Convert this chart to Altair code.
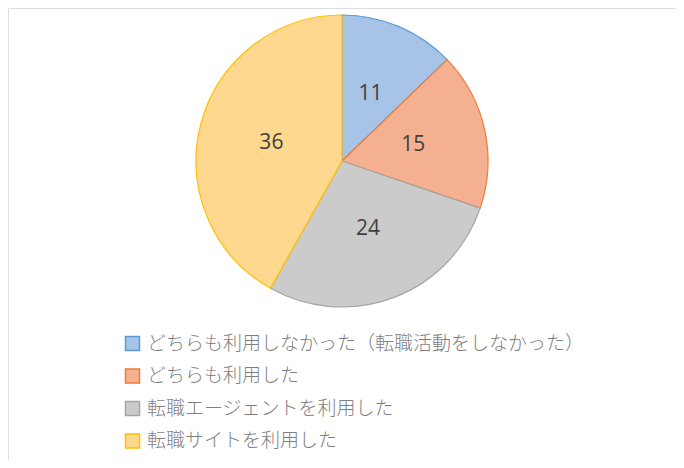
import altair as alt
import pandas as pd

categories = [
    "どちらも利用しなかった（転職活動をしなかった）",
    "どちらも利用した",
    "転職エージェントを利用した",
    "転職サイトを利用した",
]
values = [11, 15, 24, 36]
order = [0, 1, 2, 3]
fills = ["#a7c3e7", "#f5b092", "#cbcbcb", "#fed88f"]
strokes = ["#5b9bd5", "#ed7d31", "#a5a5a5", "#ffc000"]

df = pd.DataFrame({"cat": categories, "val": values, "ord": order})

fill_scale = alt.Scale(domain=categories, range=fills)
stroke_scale = alt.Scale(domain=categories, range=strokes)

legend = alt.Legend(
    title=None,
    orient="none",
    legendX=115,
    legendY=326,
    symbolType="square",
    symbolSize=196,
    symbolStrokeWidth=1.5,
    symbolOpacity=1,
    labelFont="Noto Sans CJK JP",
    labelFontSize=19,
    labelFontWeight=300,
    labelColor="#7f7f7f",
    labelLimit=600,
    labelOffset=5,
    rowPadding=11.5,
    padding=0,
)

base = alt.Chart(df).encode(
    theta=alt.Theta("val:Q", stack=True),
    order=alt.Order("ord:Q"),
)

arcs = base.mark_arc(outerRadius=146, strokeWidth=1.2, opacity=1).encode(
    x=alt.value(334),
    y=alt.value(153),
    fill=alt.Fill("cat:N", scale=fill_scale, legend=legend, sort=categories),
    stroke=alt.Stroke("cat:N", scale=stroke_scale, legend=legend, sort=categories),
)

labels = base.mark_text(
    radius=73, fontSize=21, font="Open Sans", color="#404040"
).encode(
    x=alt.value(334),
    y=alt.value(153),
    text=alt.Text("val:Q"),
)

chart = (
    alt.layer(arcs, labels)
    .properties(width=668, height=452, padding=0, autosize=alt.AutoSizeParams(type="none"))
    .configure_view(stroke=None)
    .configure(background="white")
)

chart.save("out.html", embed_options={"renderer": "svg", "actions": False})
